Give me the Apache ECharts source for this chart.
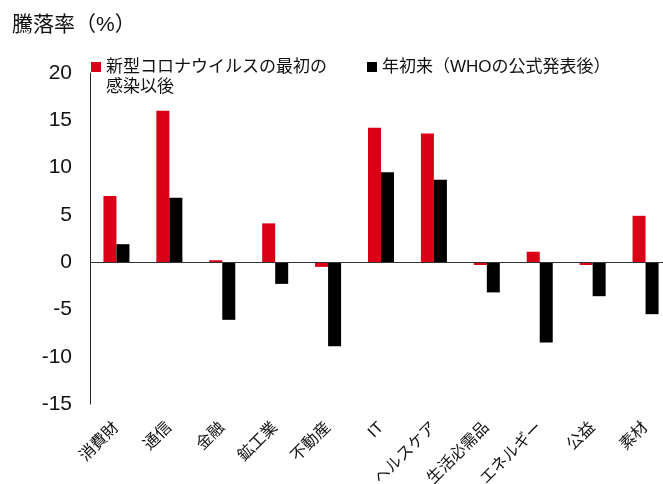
<!DOCTYPE html>
<html>
<head>
<meta charset="utf-8">
<script src="https://cdn.jsdelivr.net/npm/echarts@6/dist/echarts.min.js"></script>
<style>html,body{margin:0;padding:0;background:#fff}#c{width:663px;height:484px}</style>
</head>
<body>
<div id="c"></div>
<script>
const categories = ['消費財','通信','金融','鉱工業','不動産','IT','ヘルスケア','生活必需品','エネルギー','公益','素材'];
const seriesNames = ['新型コロナウイルスの最初の\n感染以後', '年初来（WHOの公式発表後）'];
const sinceFirstCase = [7.0, 16.0, 0.2, 4.1, -0.5, 14.2, 13.6, -0.3, 1.1, -0.3, 4.9];
const yearToDate = [1.9, 6.8, -6.1, -2.3, -8.9, 9.5, 8.7, -3.2, -8.5, -3.6, -5.5];
const yTicks = [-15, -10, -5, 0, 5, 10, 15, 20];
const titleText = '騰落率（%）';

const FONT = '"Liberation Sans", "Noto Sans CJK JP", sans-serif';
const chart = echarts.init(document.getElementById('c'), null, {renderer: 'canvas'});
chart.setOption({
  animation: false,
  title: {text: titleText, left: 12, top: 15, padding: 0, textStyle: {fontFamily: FONT, fontSize: 21, fontWeight: 'normal', color: '#111'}},
  legend: [
    {data: [seriesNames[0]], left: 91, top: 37, padding: 0, itemWidth: 10, itemHeight: 10, icon: 'rect',
     formatter: function (n) { return '\n' + n; },
     textStyle: {fontFamily: FONT, fontSize: 17, color: '#111', lineHeight: 20}},
    {data: [seriesNames[1]], left: 367, top: 57, padding: 0, itemWidth: 10, itemHeight: 10, icon: 'rect',
     textStyle: {fontFamily: FONT, fontSize: 17, color: '#111', lineHeight: 20}}
  ],
  grid: {left: 90, right: -9, top: 73, bottom: 80, containLabel: false, outerBoundsMode: 'none'},
  xAxis: {
    type: 'category', data: categories,
    axisLine: {show: false}, axisTick: {show: false},
    axisLabel: {interval: 0, rotate: 45, margin: 21, padding: [8, 0, 0, 0], fontFamily: FONT, fontSize: 16, color: '#111'}
  },
  yAxis: {
    type: 'value', min: yTicks[0], max: yTicks[yTicks.length - 1], interval: 5,
    axisLine: {show: true, lineStyle: {color: '#222', width: 1}},
    axisTick: {show: false}, splitLine: {show: false},
    axisLabel: {margin: 18, fontFamily: FONT, fontSize: 21, color: '#111'}
  },
  series: [
    {name: seriesNames[0], type: 'bar', data: sinceFirstCase, barWidth: 13, barGap: '0%',
     itemStyle: {color: '#da0017'},
     markLine: {silent: true, symbol: 'none', label: {show: false},
       lineStyle: {color: '#333', width: 1.2, type: 'solid'}, data: [{yAxis: 0}]}},
    {name: seriesNames[1], type: 'bar', data: yearToDate, barWidth: 13, barGap: '0%',
     itemStyle: {color: '#000'}}
  ]
});
</script>
</body>
</html>
